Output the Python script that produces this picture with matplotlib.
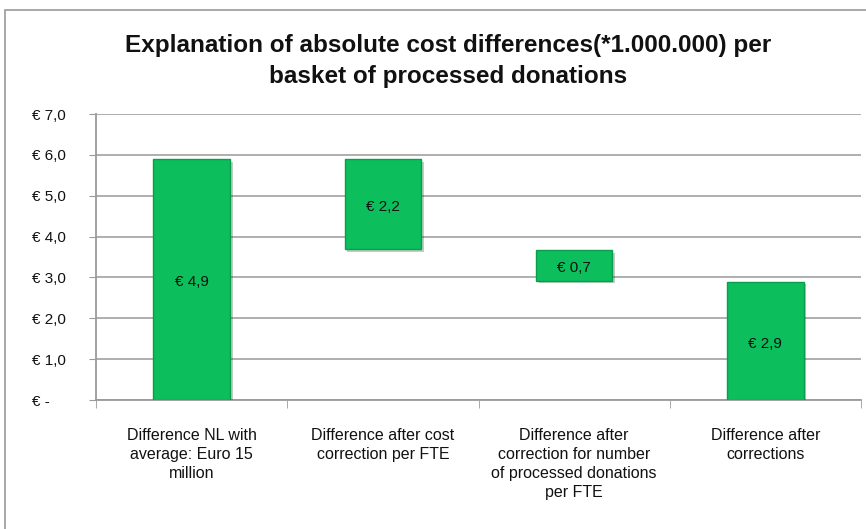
import matplotlib
matplotlib.use("Agg")
import matplotlib.pyplot as plt
from matplotlib.patches import Rectangle
import matplotlib.patheffects as pe

# data (millions of euro)
categories = ["Difference NL with\naverage: Euro 15\nmillion",
              "Difference after cost\ncorrection per FTE",
              "Difference after\ncorrection for number\nof processed donations\nper FTE",
              "Difference after\ncorrections"]
bar_bottoms = [0.0, 3.7, 2.92, 0.0]
bar_heights = [5.9, 2.2, 0.75, 2.9]
bar_labels = ["€ 4,9", "€ 2,2", "€ 0,7", "€ 2,9"]
y_ticks = [0, 1, 2, 3, 4, 5, 6, 7]
y_ticklabels = ["€ -", "€ 1,0", "€ 2,0", "€ 3,0", "€ 4,0", "€ 5,0", "€ 6,0", "€ 7,0"]

plt.rcParams['font.family'] = ['Liberation Sans', 'DejaVu Sans']

fig = plt.figure(figsize=(8.66, 5.29), dpi=100)
W, H = 866, 529
ax = fig.add_axes([96 / W, 1 - 400 / H, (861 - 96) / W, (400 - 114) / H])

# outer chart frame
fig.patches.append(Rectangle((5 / W, -0.05), 1.1, 1 - 10 / H + 0.05, transform=fig.transFigure,
                             fill=False, edgecolor='#9a9a9a', linewidth=1.2))

x = list(range(len(categories)))
bars = ax.bar(x, bar_heights, bottom=bar_bottoms, width=0.4, color='#0cbf5c',
              edgecolor='#0a9e4a', linewidth=1.0, zorder=3)
for b in bars:
    b.set_path_effects([pe.SimplePatchShadow(offset=(2, -2), alpha=0.25), pe.Normal()])

for xi, bot, h, lab in zip(x, bar_bottoms, bar_heights, bar_labels):
    ax.text(xi, bot + h / 2 - 0.07, lab, ha='center', va='center', fontsize=11, color='#111111', zorder=4)

ax.set_xlim(-0.5, len(categories) - 0.5)
ax.set_ylim(0, 7)
ax.set_yticks(y_ticks)
ax.set_yticklabels(y_ticklabels)
for t in ax.get_yticklabels():
    t.set_horizontalalignment('left')
ax.tick_params(axis='y', length=5, pad=(96 - 5 - 34) * 0.72, labelsize=11,
               colors='#9a9a9a', labelcolor='#111111')

ax.set_xticks(x)
ax.set_xticklabels(categories, fontsize=11.5, color='#111111', linespacing=1.35)
ax.set_xticks([i - 0.5 for i in range(len(categories) + 1)], minor=True)
ax.tick_params(axis='x', which='major', length=0, pad=20)
ax.tick_params(axis='x', which='minor', length=6, color='#9a9a9a')

ax.grid(axis='y', color='#a8a8a8', linewidth=1.3, zorder=0)
ax.set_axisbelow(True)
for s in ['top', 'right']:
    ax.spines[s].set_visible(False)
for s in ['left', 'bottom']:
    ax.spines[s].set_color('#9a9a9a')
    ax.spines[s].set_linewidth(1.3)

fig.text(448 / W, 1 - 61 / H, "Explanation of absolute cost differences(*1.000.000) per\nbasket of processed donations",
         ha='center', va='center', fontsize=17.5, fontweight='bold', color='#111111', linespacing=1.4)

fig.savefig("out.png", dpi=100)
